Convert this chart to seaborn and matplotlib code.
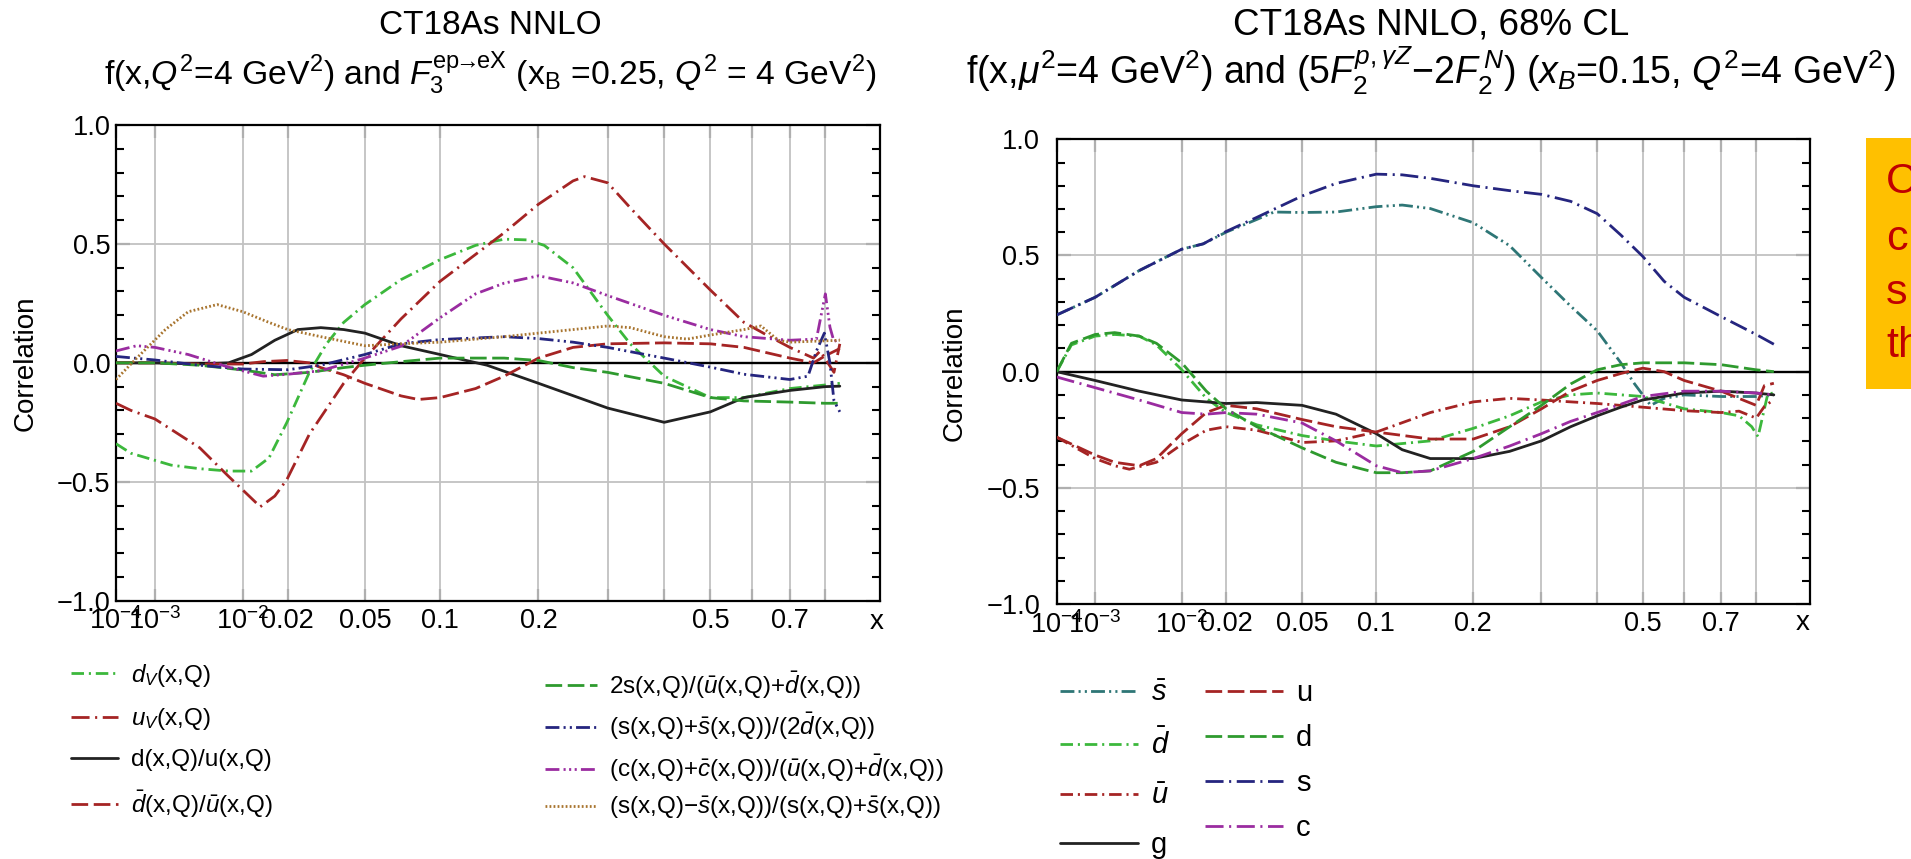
import numpy as np
import matplotlib
matplotlib.use("Agg")
import matplotlib.pyplot as plt
import seaborn as sns
from matplotlib.patches import Rectangle
from matplotlib.ticker import FixedLocator, NullLocator, MultipleLocator

# ---------------- data ----------------
# Left panel: CT18As NNLO, F3 (xB = 0.25)
dv_x = [1e-4, 3e-4, 1.78e-3, 4e-3, 7.6e-3, 0.01159, 0.01527, 0.0198, 0.02665, 0.03286, 0.03993, 0.05, 0.0712, 0.1,
        0.1308, 0.1598, 0.186, 0.2073, 0.2466, 0.3, 0.3377, 0.4, 0.5, 0.579, 0.7, 0.8, 0.85]
dv_y = [-0.34, -0.38, -0.43, -0.445, -0.455, -0.455, -0.40, -0.25, -0.04, 0.08, 0.17, 0.245, 0.35, 0.434,
        0.494, 0.52, 0.517, 0.494, 0.40, 0.20, 0.08, -0.056, -0.146, -0.146, -0.108, -0.093, -0.086]

uv_x = [1e-4, 3e-4, 1e-3, 4e-3, 7.6e-3, 0.01335, 0.01666, 0.0198, 0.02665, 0.03993, 0.05, 0.0712, 0.1, 0.1308,
        0.1598, 0.2, 0.2466, 0.2636, 0.3, 0.3377, 0.4, 0.5, 0.579, 0.637, 0.7, 0.7656, 0.785, 0.8295, 0.85]
uv_y = [-0.17, -0.20, -0.236, -0.357, -0.477, -0.605, -0.56, -0.49, -0.30, -0.086, 0.02, 0.185, 0.343, 0.456,
        0.547, 0.667, 0.765, 0.783, 0.757, 0.652, 0.50, 0.306, 0.17, 0.117, 0.065, 0.02, 0.05, -0.04, 0.08]

du_x = [1e-4, 1e-3, 4e-3, 7.6e-3, 0.01159, 0.01666, 0.02298, 0.0307, 0.03993, 0.05, 0.0712, 0.1, 0.142, 0.2,
        0.3, 0.4, 0.5, 0.579, 0.7, 0.8, 0.85]
du_y = [0.0, 0.0, -0.005, 0.0, 0.035, 0.095, 0.14, 0.148, 0.14, 0.125, 0.072, 0.035, -0.01, -0.086,
        -0.19, -0.25, -0.206, -0.146, -0.116, -0.10, -0.098]

dbub_x = [1e-4, 1e-3, 4e-3, 1e-2, 0.01398, 0.0198, 0.02665, 0.0307, 0.03993, 0.05, 0.0712, 0.0831, 0.1, 0.1308,
          0.1598, 0.2, 0.2466, 0.3, 0.4, 0.5, 0.579, 0.7, 0.7656, 0.8, 0.85]
dbub_y = [0.0, 0.0, -0.005, -0.005, 0.005, 0.01, 0.0, -0.02, -0.05, -0.086, -0.139, -0.154, -0.146, -0.108,
          -0.056, 0.02, 0.065, 0.08, 0.084, 0.08, 0.065, 0.02, 0.0, 0.03, 0.06]

ss_x = [1e-4, 1e-3, 4e-3, 1e-2, 0.01666, 0.02665, 0.03993, 0.05, 0.0712, 0.1, 0.1598, 0.2, 0.2466, 0.3,
        0.4, 0.5, 0.579, 0.7, 0.8, 0.85]
ss_y = [0.0, 0.0, -0.01, -0.03, -0.05, -0.04, -0.02, -0.01, 0.005, 0.02, 0.02, 0.01, -0.02, -0.04,
        -0.086, -0.146, -0.16, -0.165, -0.17, -0.17]

sp_x = [1e-4, 1e-3, 4e-3, 1e-2, 0.02, 0.0307, 0.05, 0.0712, 0.1, 0.1598, 0.2, 0.2466, 0.3, 0.4, 0.5,
        0.579, 0.7, 0.75, 0.774, 0.797, 0.8156, 0.8295, 0.85]
sp_y = [0.027, 0.012, -0.01, -0.026, -0.029, -0.01, 0.035, 0.08, 0.098, 0.11, 0.102, 0.087, 0.065, 0.02, -0.018,
        -0.048, -0.07, -0.056, 0.05, 0.125, 0.0, -0.16, -0.206]

cc_x = [1e-4, 4.2e-4, 1e-3, 2.97e-3, 7.6e-3, 0.01398, 0.02, 0.0307, 0.05, 0.0712, 0.1, 0.1308, 0.1598, 0.2,
        0.2466, 0.3, 0.4, 0.5, 0.579, 0.7, 0.774, 0.8, 0.8156, 0.8295, 0.85]
cc_y = [0.05, 0.072, 0.065, 0.035, -0.018, -0.056, -0.048, -0.033, 0.02, 0.07, 0.19, 0.29, 0.335, 0.366,
        0.336, 0.283, 0.2, 0.14, 0.11, 0.095, 0.10, 0.29, 0.15, 0.09, 0.10]

sm_x = [1e-4, 4.2e-4, 1.47e-3, 2.97e-3, 6e-3, 1e-2, 0.01527, 0.02, 0.0307, 0.05, 0.0712, 0.1, 0.1598, 0.2,
        0.2466, 0.3, 0.3377, 0.4, 0.448, 0.5, 0.579, 0.622, 0.668, 0.7, 0.85]
sm_y = [-0.07, 0.02, 0.14, 0.215, 0.245, 0.215, 0.17, 0.14, 0.11, 0.072, 0.08, 0.087, 0.11, 0.125,
        0.14, 0.155, 0.148, 0.11, 0.10, 0.117, 0.14, 0.155, 0.095, 0.087, 0.095]

left_labels = [r"$d_V$(x,Q)", r"$u_V$(x,Q)", "d(x,Q)/u(x,Q)", r"$\bar{d}$(x,Q)/$\bar{u}$(x,Q)",
               r"2s(x,Q)/($\bar{u}$(x,Q)+$\bar{d}$(x,Q))", r"(s(x,Q)+$\bar{s}$(x,Q))/(2$\bar{d}$(x,Q))",
               r"(c(x,Q)+$\bar{c}$(x,Q))/($\bar{u}$(x,Q)+$\bar{d}$(x,Q))",
               r"(s(x,Q)−$\bar{s}$(x,Q))/(s(x,Q)+$\bar{s}$(x,Q))"]

# Right panel: CT18As NNLO, 68% CL, (5F2 - 2F2) (xB = 0.15)
s_x = [1e-4, 1e-3, 4e-3, 1e-2, 0.01428, 0.02, 0.03, 0.05, 0.07, 0.1, 0.1223, 0.15, 0.2, 0.25, 0.3, 0.35,
       0.4, 0.45, 0.5, 0.55, 0.6, 0.7, 0.8, 0.8625]
s_y = [0.244, 0.32, 0.435, 0.527, 0.55, 0.603, 0.664, 0.756, 0.81, 0.85, 0.847, 0.832, 0.80, 0.779, 0.763, 0.733,
       0.68, 0.588, 0.496, 0.389, 0.32, 0.237, 0.16, 0.118]

sb_x = [1e-4, 1e-3, 4e-3, 1e-2, 0.01428, 0.02, 0.03, 0.0368, 0.05, 0.07, 0.1, 0.1223, 0.15, 0.2, 0.25, 0.3,
        0.35, 0.4, 0.45, 0.481, 0.518, 0.55, 0.6, 0.7, 0.8, 0.8625]
sb_y = [0.244, 0.32, 0.435, 0.527, 0.55, 0.60, 0.655, 0.687, 0.685, 0.687, 0.71, 0.717, 0.702, 0.641, 0.542, 0.405,
        0.282, 0.176, 0.038, -0.053, -0.145, -0.115, -0.10, -0.107, -0.107, -0.10]

db_x = [1e-4, 3e-4, 1e-3, 2e-3, 4e-3, 6e-3, 1e-2, 0.015, 0.02, 0.03, 0.05, 0.07, 0.1, 0.15, 0.2, 0.25, 0.3,
        0.35, 0.4, 0.5, 0.6, 0.7, 0.75, 0.787, 0.8065, 0.84, 0.8625]
db_y = [0.0, 0.115, 0.153, 0.16, 0.153, 0.115, 0.008, -0.115, -0.176, -0.229, -0.275, -0.298, -0.32, -0.298,
        -0.244, -0.19, -0.13, -0.10, -0.092, -0.107, -0.16, -0.176, -0.19, -0.237, -0.28, -0.10, -0.09]

d_x = [1e-4, 3e-4, 1e-3, 2e-3, 4e-3, 6e-3, 1e-2, 0.015, 0.02, 0.03, 0.05, 0.07, 0.1, 0.1223, 0.15, 0.2, 0.25,
       0.3, 0.35, 0.4, 0.45, 0.5, 0.6, 0.7, 0.8, 0.8625]
d_y = [0.0, 0.122, 0.16, 0.168, 0.153, 0.122, 0.038, -0.084, -0.16, -0.237, -0.328, -0.39, -0.435, -0.435,
       -0.427, -0.343, -0.237, -0.145, -0.053, 0.008, 0.03, 0.038, 0.038, 0.03, 0.008, 0.0]

u_x = [1e-4, 1e-3, 2e-3, 4e-3, 6e-3, 1e-2, 0.015, 0.02, 0.03, 0.05, 0.07, 0.1, 0.15, 0.2, 0.25, 0.3, 0.35,
       0.4, 0.45, 0.5, 0.55, 0.6, 0.7, 0.8, 0.8287, 0.8625]
u_y = [-0.282, -0.359, -0.39, -0.405, -0.374, -0.267, -0.176, -0.145, -0.16, -0.206, -0.237, -0.26, -0.29,
       -0.29, -0.237, -0.16, -0.084, -0.038, -0.008, 0.015, 0.0, -0.038, -0.084, -0.145, -0.06, -0.05]

ub_x = [1e-4, 1e-3, 2e-3, 3.09e-3, 6e-3, 1e-2, 0.015, 0.02, 0.03, 0.05, 0.07, 0.1, 0.15, 0.2, 0.25, 0.3, 0.35,
        0.4, 0.5, 0.6, 0.7, 0.75, 0.8, 0.8287, 0.8625]
ub_y = [-0.282, -0.374, -0.405, -0.42, -0.39, -0.313, -0.252, -0.237, -0.252, -0.305, -0.298, -0.26, -0.176,
        -0.13, -0.115, -0.122, -0.13, -0.137, -0.153, -0.168, -0.176, -0.17, -0.20, -0.15, -0.12]

g_x = [1e-4, 1e-3, 4e-3, 1e-2, 0.02, 0.03, 0.05, 0.07, 0.1, 0.1223, 0.15, 0.2, 0.25, 0.3, 0.35, 0.4, 0.45,
       0.5, 0.6, 0.7, 0.8, 0.8625]
g_y = [0.0, -0.038, -0.084, -0.122, -0.137, -0.133, -0.145, -0.183, -0.267, -0.336, -0.374, -0.374, -0.343,
       -0.298, -0.237, -0.19, -0.153, -0.122, -0.092, -0.084, -0.092, -0.10]

c_x = [1e-4, 1e-3, 4e-3, 1e-2, 0.015, 0.02, 0.03, 0.05, 0.07, 0.1, 0.1223, 0.15, 0.2, 0.25, 0.3, 0.35, 0.4,
       0.5, 0.6, 0.7, 0.8, 0.8625]
c_y = [-0.023, -0.069, -0.122, -0.176, -0.183, -0.176, -0.183, -0.221, -0.298, -0.405, -0.435, -0.427, -0.374,
       -0.32, -0.267, -0.214, -0.176, -0.107, -0.084, -0.084, -0.092, -0.10]

right_labels_1 = [r"$\bar{s}$", r"$\bar{d}$", r"$\bar{u}$", "g"]
right_labels_2 = ["u", "d", "s", "c"]

xtick_vals = [1e-4, 1e-3, 1e-2, 0.02, 0.05, 0.1, 0.2, 0.3, 0.4, 0.5, 0.6, 0.7, 0.8]
xtick_labels = [r"$10^{-4}$", r"$10^{-3}$", r"$10^{-2}$", "0.02", "0.05", "0.1", "0.2", "", "", "0.5", "", "0.7", ""]
ytick_vals = [-1.0, -0.5, 0.0, 0.5, 1.0]
ytick_labels = ["−1.0", "−0.5", "0.0", "0.5", "1.0"]

# ---------------- style ----------------
sns.set_theme(style="white")
plt.rcParams['font.family'] = ['Liberation Sans', 'DejaVu Sans']
plt.rcParams['mathtext.fontset'] = 'custom'
plt.rcParams['mathtext.rm'] = 'Liberation Sans'
plt.rcParams['mathtext.it'] = 'Liberation Sans:italic'
plt.rcParams['mathtext.bf'] = 'Liberation Sans:bold'
plt.rcParams['mathtext.sf'] = 'Liberation Sans'
plt.rcParams['lines.scale_dashes'] = False
for key in ('text.color', 'xtick.color', 'ytick.color', 'axes.labelcolor', 'xtick.labelcolor', 'ytick.labelcolor'):
    plt.rcParams[key] = 'black'

# axis scale used by the reference (cube-root-like x axis)
SCALE_X = np.array([1e-4, 1e-3, 1e-2, 0.02, 0.05, 0.1, 0.2, 0.3, 0.4, 0.5, 0.6, 0.7, 0.8, 1.0])
SCALE_F = np.array([0.0, 0.051, 0.166, 0.2247, 0.3257, 0.4243, 0.553, 0.6435, 0.7175, 0.778, 0.833, 0.882, 0.9285, 1.0])
_c = np.cbrt(SCALE_X)
_s0 = (SCALE_F[1] - SCALE_F[0]) / (_c[1] - _c[0])
_s1 = (SCALE_F[-1] - SCALE_F[-2]) / (_c[-1] - _c[-2])
_cx = np.concatenate([[_c[0] - 1.0], _c, [_c[-1] + 1.0]])
_fx = np.concatenate([[SCALE_F[0] - _s0], SCALE_F, [SCALE_F[-1] + _s1]])


def fwd(x):
    return np.interp(np.cbrt(np.asarray(x, dtype=float)), _cx, _fx)


def inv(f):
    return np.interp(np.asarray(f, dtype=float), _fx, _cx) ** 3


W, H = 1911, 859
fig = plt.figure(figsize=(W / 100, H / 100), dpi=100)


def fxp(px):
    return px / W


def fyp(py):
    return 1 - py / H


axL = fig.add_axes([fxp(116), fyp(600.7), (880 - 116) / W, (600.7 - 125) / H])
axR = fig.add_axes([fxp(1056.7), fyp(604), (1810 - 1056.7) / W, (604 - 139.3) / H])

DASHDOT = (9, 3.5, 1.5, 3.5)
DASHDOT_L = (13, 4, 1.5, 4)
DASHED = (12, 4)
DASH2DOT = (10, 3, 1.5, 3, 1.5, 3)
DASH3DOT = (10, 3, 1.5, 2.5, 1.5, 2.5, 1.5, 3)
DOTTED = (1.3, 1.6)

LIME = "#3cb83c"
GREEN = "#2e9a2e"
DRED = "#a52424"
BLACK = "#222222"
NAVY = "#25257f"
PURPLE = "#9a2ca0"
BROWN = "#a8742e"
TEAL = "#2e7676"


def draw(ax, x, y, color, dashes, lw=2.0):
    sns.lineplot(x=x, y=y, ax=ax, color=color, linewidth=lw, sort=False, estimator=None, legend=False)
    ln = ax.lines[-1]
    if dashes is None:
        ln.set_linestyle('-')
    else:
        ln.set_dashes(dashes)
    ln.set_dash_capstyle('butt')
    ln.set_zorder(3)
    return ln


def style_axes(ax):
    ax.set_xscale('function', functions=(fwd, inv))
    ax.set_xlim(1e-4, 1.0)
    ax.set_ylim(-1.0, 1.0)
    ax.xaxis.set_major_locator(FixedLocator(xtick_vals))
    ax.xaxis.set_minor_locator(NullLocator())
    ax.set_xticklabels(xtick_labels)
    ax.yaxis.set_major_locator(FixedLocator(ytick_vals))
    ax.set_yticklabels(ytick_labels)
    ax.yaxis.set_minor_locator(MultipleLocator(0.1))
    ax.tick_params(axis='x', which='major', direction='in', length=9, width=1.5, top=True, bottom=True,
                   labelsize=19.5, pad=5, color='black', labelcolor='black')
    ax.tick_params(axis='y', which='major', direction='in', length=10, width=1.5, left=True, right=True,
                   labelsize=19.5, color='black', labelcolor='black')
    ax.tick_params(axis='y', which='minor', direction='in', length=6, width=1.5, left=True, right=True,
                   color='black')
    for sp in ax.spines.values():
        sp.set_color('black')
        sp.set_linewidth(1.6)
    ax.set_xlabel("")
    ax.set_ylabel("")
    for xv in xtick_vals[1:]:
        ax.axvline(xv, color='#c2c2c2', lw=1.3, zorder=1)
    for yv in (0.5, -0.5):
        ax.axhline(yv, color='#c2c2c2', lw=1.3, zorder=1)
    ax.axhline(0.0, color='black', lw=1.7, zorder=2)


# ---------------- left panel ----------------
hL = [
    draw(axL, dv_x, dv_y, LIME, DASHDOT),
    draw(axL, uv_x, uv_y, DRED, DASHDOT_L),
    draw(axL, du_x, du_y, BLACK, None),
    draw(axL, dbub_x, dbub_y, DRED, DASHED),
    draw(axL, ss_x, ss_y, GREEN, DASHED),
    draw(axL, sp_x, sp_y, NAVY, DASH2DOT),
    draw(axL, cc_x, cc_y, PURPLE, DASH3DOT),
    draw(axL, sm_x, sm_y, BROWN, DOTTED),
]
style_axes(axL)
axL.tick_params(axis='y', which='major', pad=4)

# ---------------- right panel ----------------
hR1 = [
    draw(axR, sb_x, sb_y, TEAL, DASH2DOT),
    draw(axR, db_x, db_y, LIME, DASHDOT),
    draw(axR, ub_x, ub_y, DRED, DASHDOT),
    draw(axR, g_x, g_y, BLACK, None),
]
hR2 = [
    draw(axR, u_x, u_y, DRED, DASHED),
    draw(axR, d_x, d_y, GREEN, DASHED),
    draw(axR, s_x, s_y, NAVY, DASHDOT_L),
    draw(axR, c_x, c_y, PURPLE, DASHDOT_L),
]
style_axes(axR)
axR.tick_params(axis='y', which='major', pad=12)

# ---------------- titles & labels ----------------
fig.text(fxp(490), fyp(25), "CT18As NNLO", ha='center', va='center', fontsize=24)
fig.text(fxp(490), fyp(73),
         r"f(x,$Q^2$=4 GeV$^2$) and $F_3^{\mathrm{ep}\!\!\rightarrow\!\!\mathrm{eX}}$ (x$_\mathrm{B}$ =0.25, $Q^2$ = 4 GeV$^2$)",
         ha='center', va='center', fontsize=24.3)
fig.text(fxp(1431), fyp(25), "CT18As NNLO, 68% CL", ha='center', va='center', fontsize=26.5)
fig.text(fxp(1431), fyp(71),
         r"f(x,$\mu^2$=4 GeV$^2$) and (5$F_2^{p,\gamma Z}$−2$F_2^{\,N}$) ($x_B$=0.15, $Q^2$=4 GeV$^2$)",
         ha='center', va='center', fontsize=27)

fig.text(fxp(26), fyp(363), "Correlation", rotation=90, ha='center', va='center', fontsize=20)
fig.text(fxp(955), fyp(373), "Correlation", rotation=90, ha='center', va='center', fontsize=20)
fig.text(fxp(877), fyp(622), "x", ha='center', va='center', fontsize=20)
fig.text(fxp(1803), fyp(623), "x", ha='center', va='center', fontsize=20)

# ---------------- legends ----------------
base = dict(frameon=False, loc='upper left', bbox_transform=fig.transFigure, borderpad=0, borderaxespad=0)
fig.legend(handles=hL[:4], labels=left_labels[:4], bbox_to_anchor=(fxp(71), fyp(662)),
           fontsize=17.5, handlelength=1.95, handletextpad=0.5, labelspacing=0.7, **base)
fig.legend(handles=hL[4:], labels=left_labels[4:], bbox_to_anchor=(fxp(545), fyp(669)),
           fontsize=17.5, handlelength=2.15, handletextpad=0.5, labelspacing=0.42, **base)
fig.legend(handles=hR1, labels=right_labels_1, bbox_to_anchor=(fxp(1060), fyp(679)),
           fontsize=21, handlelength=2.67, handletextpad=0.45, labelspacing=0.74, **base)
fig.legend(handles=hR2, labels=right_labels_2, bbox_to_anchor=(fxp(1205), fyp(679)),
           fontsize=21, handlelength=2.67, handletextpad=0.45, labelspacing=0.58, **base)

# ---------------- orange call-out box (cut by the figure edge) ----------------
fig.patches.append(Rectangle((fxp(1866), fyp(388.6)), 0.05, (388.6 - 137.5) / H,
                             transform=fig.transFigure, facecolor='#FFC000', edgecolor='none', zorder=0))
for txt, yy in (("C", 182), ("c", 239), ("s", 293), ("th", 346)):
    fig.text(fxp(1886), fyp(yy), txt, ha='left', va='center', fontsize=31, color='#C00000')

fig.savefig("out.png", dpi=100)
